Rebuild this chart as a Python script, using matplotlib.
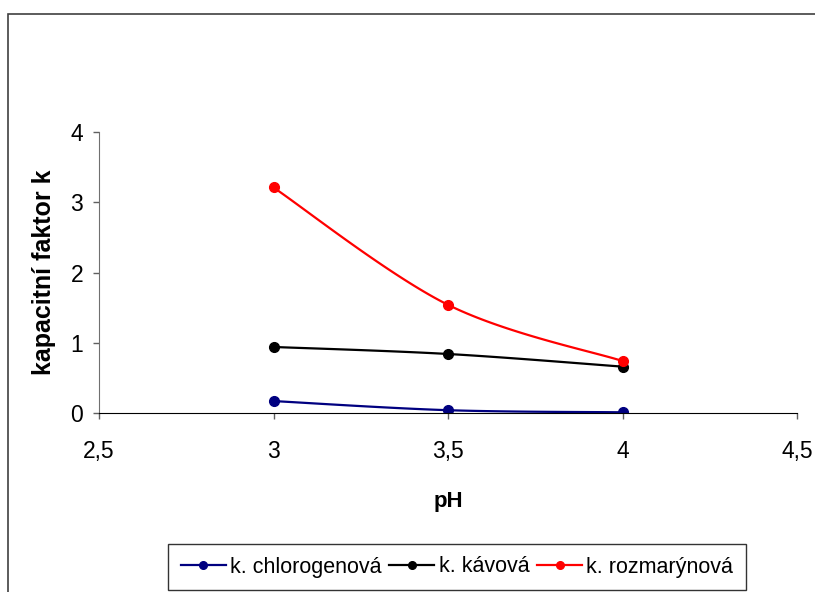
import matplotlib
matplotlib.use('Agg')
from matplotlib import pyplot as plt
from matplotlib.patches import Rectangle
import numpy as np

# Data
ph = [3.0, 3.5, 4.0]
chlorogenova = [0.17, 0.04, 0.01]
kavova = [0.94, 0.84, 0.66]
rozmarynova = [3.21, 1.54, 0.74]

series_names = ['k. chlorogenová', 'k. kávová', 'k. rozmarýnová']
series_colors = ['#000080', '#000000', '#FF0000']
x_ticks = [2.5, 3.0, 3.5, 4.0, 4.5]
y_ticks = [0, 1, 2, 3, 4]


def smooth(xs, ys, n=40):
    # Excel-like smoothed line (Catmull-Rom through the points)
    xs = np.asarray(xs, float)
    ys = np.asarray(ys, float)
    px = np.concatenate([[xs[0]], xs, [xs[-1]]])
    py = np.concatenate([[ys[0]], ys, [ys[-1]]])
    out_x, out_y = [], []
    t = np.linspace(0, 1, n)
    for i in range(1, len(px) - 2):
        p0, p1, p2, p3 = [np.array([px[j], py[j]]) for j in range(i - 1, i + 3)]
        c1 = p1 + (p2 - p0) / 6
        c2 = p2 - (p3 - p1) / 6
        pts = ((1 - t) ** 3)[:, None] * p1 + (3 * (1 - t) ** 2 * t)[:, None] * c1 \
            + (3 * (1 - t) * t ** 2)[:, None] * c2 + (t ** 3)[:, None] * p2
        out_x.extend(pts[:, 0])
        out_y.extend(pts[:, 1])
    return out_x, out_y


plt.rcParams['font.family'] = ['Liberation Sans', 'DejaVu Sans']

fig = plt.figure(figsize=(8.15, 5.92), dpi=100)
ax = fig.add_axes([99 / 815, 1 - 413 / 592, (797 - 99) / 815, (413 - 132) / 592])

# Outer chart border (cut off on the right and bottom like the reference)
fig.patches.append(Rectangle((8 / 815, -0.1), 1.2, 1.1 - 14 / 592,
                             transform=fig.transFigure, fill=False,
                             edgecolor='#404040', linewidth=1.2))

for vals, name, col in zip([chlorogenova, kavova, rozmarynova], series_names, series_colors):
    sx, sy = smooth(ph, vals)
    ax.plot(sx, sy, color=col, linewidth=1.6)
    ax.plot(ph, vals, linestyle='none', marker='o', markersize=7, color=col)
    ax.plot([], [], color=col, linewidth=1.6, marker='o', markersize=5.5, label=name)

ax.set_xlim(2.5, 4.5)
ax.set_ylim(0, 4)
ax.set_xticks(x_ticks)
ax.set_xticklabels([str(v).replace('.', ',').replace(',0', '') for v in x_ticks])
ax.set_yticks(y_ticks)
ax.tick_params(axis='both', labelsize=16.5, length=4.5, width=1, color='#606060')
ax.tick_params(axis='x', pad=15)
ax.tick_params(axis='y', pad=7)

ax.spines['top'].set_visible(False)
ax.spines['right'].set_visible(False)
ax.spines['left'].set_color('#707070')
ax.spines['bottom'].set_color('#000000')

ax.set_xlabel('pH', fontsize=16, fontweight='bold', labelpad=20)
ax.set_ylabel('kapacitní faktor k', fontsize=18, fontweight='bold', labelpad=10)

leg = fig.legend(loc='center', bbox_to_anchor=(457 / 815, 1 - 567 / 592), ncol=3,
                 fontsize=15.5, frameon=True, fancybox=False, handlelength=2.1,
                 handletextpad=0.2, columnspacing=0.35, borderpad=0.6,
                 borderaxespad=0)
leg.get_frame().set_edgecolor('#000000')
leg.get_frame().set_linewidth(1.0)

fig.savefig('out.png', dpi=100)
